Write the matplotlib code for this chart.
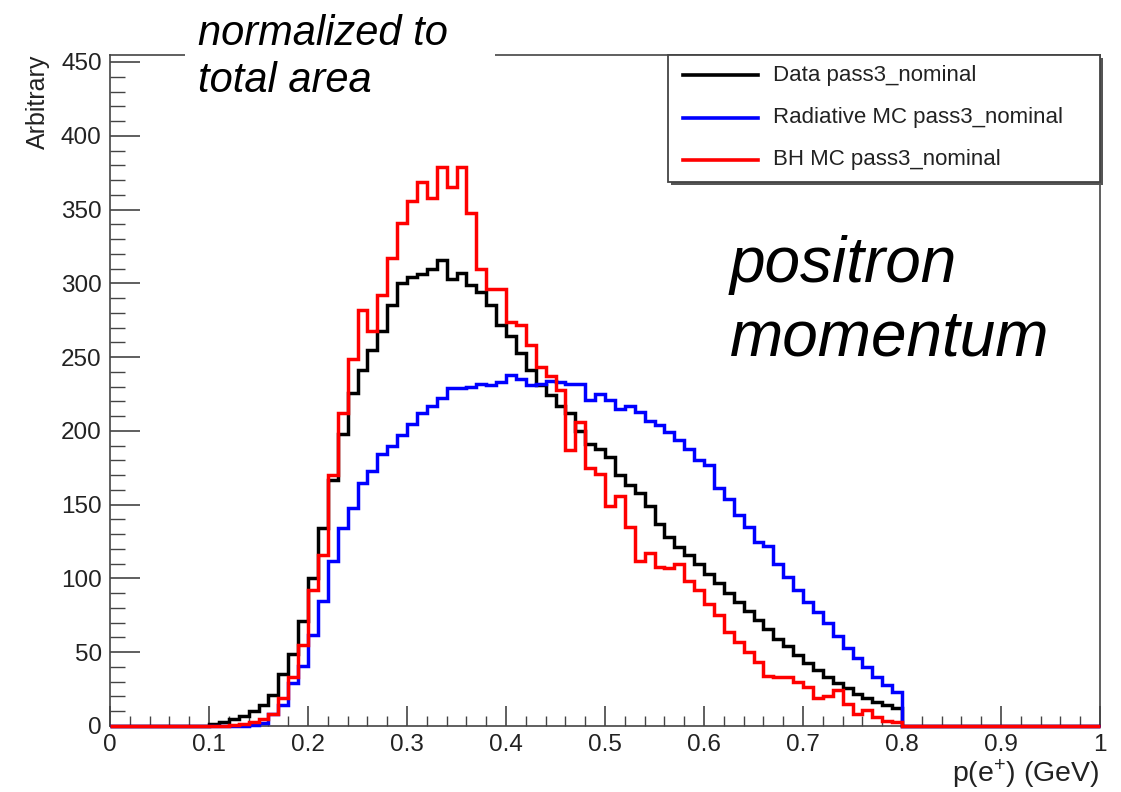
import numpy as np
import matplotlib
matplotlib.use("Agg")
import matplotlib.pyplot as plt
from matplotlib.patches import Rectangle
from matplotlib.lines import Line2D
from matplotlib.ticker import MultipleLocator, FixedLocator, FixedFormatter

plt.rcParams['font.family'] = ['Liberation Sans', 'DejaVu Sans']
plt.rcParams['mathtext.fontset'] = 'custom'
plt.rcParams['mathtext.rm'] = 'Liberation Sans'
plt.rcParams['mathtext.it'] = 'Liberation Sans:italic'

# ---- data: 100 bins of width 0.01 from 0 to 1 ----
bin_edges = np.linspace(0.0, 1.0, 101)

data_pass3 = [
    0, 0, 0, 0, 0, 0, 0, 0, 0, 0.3,                     # 0.00-0.09
    1.5, 3, 5, 7, 10, 14, 21, 35, 49, 71,               # 0.10-0.19
    100, 134, 167, 198, 226, 241, 255, 268, 285, 300,   # 0.20-0.29
    304, 306, 310, 316, 303, 307, 299, 294, 285, 272,   # 0.30-0.39
    264, 253, 241, 231, 224, 217, 212, 200, 191, 188,   # 0.40-0.49
    182, 170, 163, 158, 149, 137, 128, 121, 116, 110,   # 0.50-0.59
    103, 97, 90, 84, 78, 72, 66, 59, 54, 48,            # 0.60-0.69
    43, 38, 33, 29, 26, 22, 19, 16.5, 14, 12,           # 0.70-0.79
    0, 0, 0, 0, 0, 0, 0, 0, 0, 0,                       # 0.80-0.89
    0, 0, 0, 0, 0, 0, 0, 0, 0, 0,                       # 0.90-0.99
]

radiative_mc = [
    0, 0, 0, 0, 0, 0, 0, 0, 0, 0,
    0, 0, 0, 0, 0.5, 2, 8, 14, 29, 41,
    62, 85, 112, 134, 148, 165, 173, 184, 190, 197,
    205, 212, 217, 222, 229, 229, 230, 232, 231, 233,
    238, 235, 231, 232, 234, 233, 232, 232, 221, 225,
    221, 215, 217, 213, 207, 204, 199, 194, 188, 180,
    177, 161, 154, 143, 135, 125, 122, 110, 101, 92,
    84, 77, 70, 61, 53, 46, 40, 33, 28, 23,
    0, 0, 0, 0, 0, 0, 0, 0, 0, 0,
    0, 0, 0, 0, 0, 0, 0, 0, 0, 0,
]

bh_mc = [
    0, 0, 0, 0, 0, 0, 0, 0, 0, 0,
    0, 0, 0.7, 1.5, 3, 5, 8, 19, 33, 55,
    92, 116, 170, 212, 249, 282, 268, 292, 317, 341,
    356, 369, 358, 379, 365, 379, 348, 310, 296, 296,
    274, 272, 258, 243, 237, 228, 187, 206, 175, 171,
    149, 156, 135, 112, 117, 108, 107, 110, 98, 92,
    83, 75, 64, 57, 50, 43.5, 34, 33, 33, 30,
    26.6, 18.7, 20.5, 24.5, 15, 8, 11, 6, 3.5, 3,
    0, 0, 0, 0, 0, 0, 0, 0, 0, 0,
    0, 0, 0, 0, 0, 0, 0, 0, 0, 0,
]

series_labels = ["Data pass3_nominal", "Radiative MC pass3_nominal", "BH MC pass3_nominal"]
series_colors = ["#000000", "#0000ff", "#ff0000"]

x_ticks = [0, 0.1, 0.2, 0.3, 0.4, 0.5, 0.6, 0.7, 0.8, 0.9, 1.0]
x_tick_labels = ["0", "0.1", "0.2", "0.3", "0.4", "0.5", "0.6", "0.7", "0.8", "0.9", "1"]
y_ticks = [0, 50, 100, 150, 200, 250, 300, 350, 400, 450]
y_tick_labels = [str(v) for v in y_ticks]

W, H = 1121, 792
def fx(px):
    return px / W
def fy(py):
    return 1 - py / H

fig = plt.figure(figsize=(W / 100, H / 100), dpi=100)
fig.patch.set_facecolor("white")

ax_l, ax_r, ax_t, ax_b = 110, 1100, 55, 726
ax = fig.add_axes([fx(ax_l), fy(ax_b), (ax_r - ax_l) / W, (ax_b - ax_t) / H])
ax.set_xlim(0, 1)
ax.set_ylim(0, 450 * (ax_b - ax_t) / (ax_b - 62))

lw = 2.5
for vals, col in zip([data_pass3, radiative_mc, bh_mc], series_colors):
    ax.stairs(vals, bin_edges, color=col, linewidth=lw, baseline=None,
              clip_on=False, zorder=3)

frame_col = "#444444"
for s in ax.spines.values():
    s.set_color(frame_col)
    s.set_linewidth(1.2)

ax.xaxis.set_major_locator(FixedLocator(x_ticks))
ax.xaxis.set_major_formatter(FixedFormatter(x_tick_labels))
ax.xaxis.set_minor_locator(MultipleLocator(0.02))
ax.yaxis.set_major_locator(FixedLocator(y_ticks))
ax.yaxis.set_major_formatter(FixedFormatter(y_tick_labels))
ax.yaxis.set_minor_locator(MultipleLocator(10))

ax.tick_params(axis="both", which="both", direction="in", colors=frame_col,
               labelcolor="#222222", top=False, right=False)
ax.tick_params(axis="y", which="major", length=21.5, width=1.2, pad=6, labelsize=17.5)
ax.tick_params(axis="y", which="minor", length=10.8, width=1.0)
ax.tick_params(axis="x", which="major", length=14.4, width=1.2, pad=6, labelsize=17.5)
ax.tick_params(axis="x", which="minor", length=7.2, width=1.0)

# axis titles
fig.text(fx(38), fy(55), "Arbitrary", rotation=90, ha="center", va="top",
         fontsize=18, color="#222222")
fig.text(fx(1100), fy(774), r"p(e$^{+}$) (GeV)", ha="right", va="center",
         fontsize=20.5, color="#222222")

# legend (ROOT style box with shadow)
lg_l, lg_r, lg_t, lg_b = 668, 1100, 55, 182
fig.patches.append(Rectangle((fx(lg_l + 3), fy(lg_b + 3)), (lg_r - lg_l) / W, (lg_b - lg_t) / H,
                             transform=fig.transFigure, facecolor="#555555",
                             edgecolor="none", zorder=4))
fig.patches.append(Rectangle((fx(lg_l), fy(lg_b)), (lg_r - lg_l) / W, (lg_b - lg_t) / H,
                             transform=fig.transFigure, facecolor="white",
                             edgecolor="#444444", linewidth=1.3, zorder=5))
row_y = [75, 118, 160]
for lab, col, yy in zip(series_labels, series_colors, row_y):
    fig.lines.append(Line2D([fx(683), fx(758)], [fy(yy), fy(yy)], color=col,
                            linewidth=2.6, transform=fig.transFigure, zorder=6))
    fig.text(fx(773), fy(yy), lab, ha="left", va="center", fontsize=16,
             color="#222222", zorder=6)

# annotation box "normalized to total area"
fig.patches.append(Rectangle((fx(185), fy(97)), (495 - 185) / W, 97 / H,
                             transform=fig.transFigure, facecolor="white",
                             edgecolor="none", zorder=4))
fig.text(fx(198), fy(45), "normalized to", ha="left", va="baseline",
         fontsize=30, style="italic", color="black", zorder=6)
fig.text(fx(198), fy(92), "total area", ha="left", va="baseline",
         fontsize=30, style="italic", color="black", zorder=6)

fig.text(fx(730), fy(282), "positron", ha="left", va="baseline",
         fontsize=46, style="italic", color="black", zorder=6)
fig.text(fx(730), fy(355), "momentum", ha="left", va="baseline",
         fontsize=46, style="italic", color="black", zorder=6)

fig.savefig("out.png", dpi=100, facecolor="white")
